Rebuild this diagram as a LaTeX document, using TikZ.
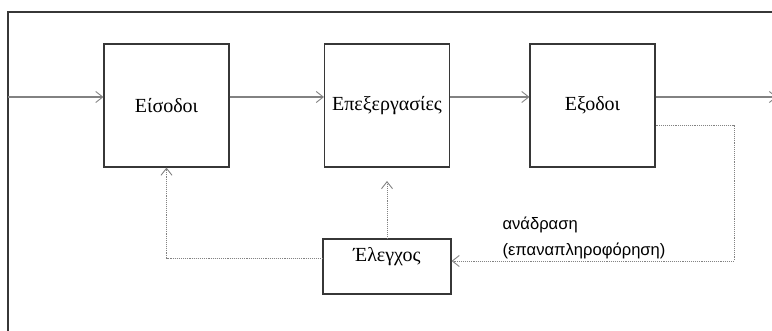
\documentclass[tikz,border=0pt]{standalone}
\usepackage{fontspec}
\setmainfont{Liberation Serif}
\newfontfamily\labelfont{Liberation Sans}
\usetikzlibrary{arrows.meta}

\definecolor{framegray}{RGB}{55,55,55}
\definecolor{linegray}{RGB}{130,130,130}

\tikzset{
    block/.style={draw=framegray, line width=1.1pt, minimum width=125pt, minimum height=123pt, inner sep=0pt, font=\fontsize{20}{22}\selectfont},
    flow/.style={draw=linegray, line width=1.2pt, -{Straight Barb[length=7pt,width=11pt,line width=0.9pt]}},
    back/.style={draw=linegray, line width=0.9pt, densely dotted, -{Straight Barb[length=7pt,width=11pt,line width=0.9pt,sep=0pt]}}
}

\begin{document}
\begin{tikzpicture}[x=1pt,y=-1pt]

        \useasboundingbox (0,0) rectangle (772,331);

        % Outer frame (runs off the page right and below)
        \draw[framegray, line width=1.2pt] (8,331) -- (8,12) -- (772,12);

        % Main chain
        \node[block] (inputs)  at (166.5,105.5) {Είσοδοι};
        \node[block] (process) at (387,105.5)   {Επεξεργασίες};
        \node[block] (outputs) at (592.5,105.5) {Εξοδοι};

        \coordinate (start) at (8,97);
        \coordinate (end)   at (777,97);

        \draw[flow] (start) -- (start -| inputs.west);
        \draw[flow] (inputs.east |- start) -- (process.west |- start);
        \draw[flow] (process.east |- start) -- (outputs.west |- start);
        \draw[flow] (outputs.east |- start) -- (end);

        % Control block
        \node[block, minimum width=128pt, minimum height=55pt] (control) at (387,266.5) {};
        \node[font=\fontsize{20}{22}\selectfont] (controltext) at (387,257) {Έλεγχος};

        % Control paths
        \coordinate (corner) at (166.5,258);
        \draw[back] (control.west |- corner) -- (corner) -- (inputs.south);
        \coordinate (tip) at (387,181);
        \draw[back] (control.north) -- (tip);

        % Feedback path
        \coordinate (fbtop) at (734,125);
        \coordinate (fbbot) at (734,261);
        \draw[back] (outputs.east |- fbtop) -- (fbtop) -- (fbbot) -- (control.east |- fbbot);

        \node[anchor=west, font=\labelfont\fontsize{16.6}{18}\selectfont] (fbname) at (499,225) {ανάδραση};
        \node[anchor=west, font=\labelfont\fontsize{16.6}{18}\selectfont] (fbnote) at (499,251) {(επαναπληροφόρηση)};

    \end{tikzpicture}
\end{document}
